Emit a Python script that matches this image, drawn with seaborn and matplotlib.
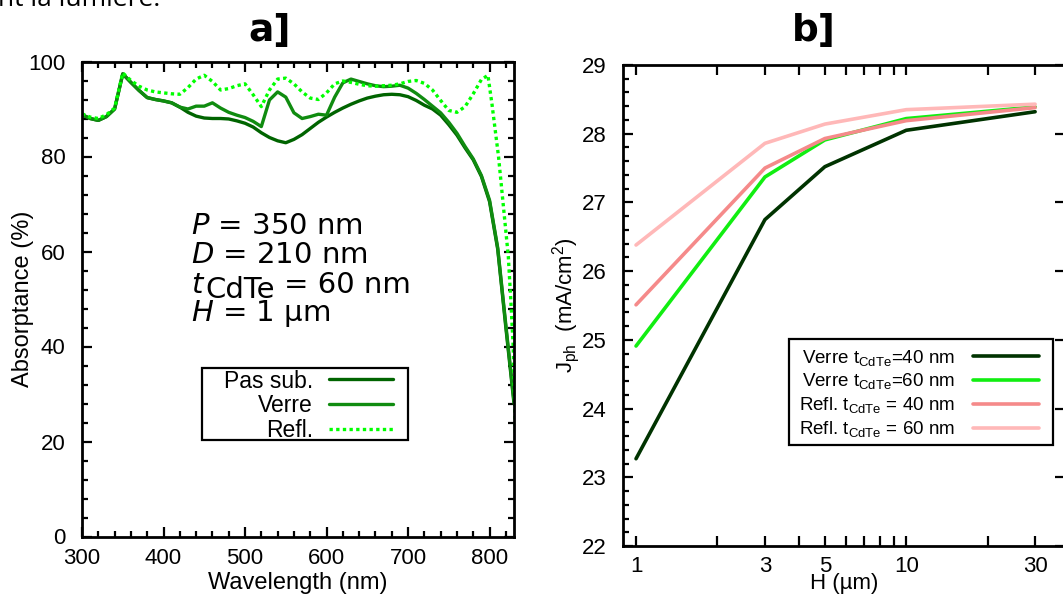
import numpy as np
import pandas as pd
import matplotlib
matplotlib.use("Agg")
import matplotlib.pyplot as plt
import seaborn as sns
from matplotlib.patches import Rectangle
from matplotlib.ticker import MultipleLocator, FixedLocator, FixedFormatter, NullLocator

# ---------------- data: panel a ----------------
wl_pas = [300, 310, 320, 330, 340, 350, 360, 370, 380, 390, 400, 410, 420, 430, 440, 450,
          460, 470, 480, 490, 500, 510, 520, 530, 540, 550, 560, 570, 580, 590, 600, 610,
          620, 630, 640, 650, 660, 670, 680, 690, 700, 710, 720, 730, 740, 750, 760, 770,
          780, 790, 800, 810, 820, 830]
abs_pas = [88.8, 88.0, 87.6, 88.4, 90.0, 97.4, 95.6, 93.9, 92.4, 92.0, 91.7, 91.3, 90.4, 89.3,
           88.5, 88.1, 88.0, 88.0, 87.9, 87.5, 87.0, 86.2, 85.0, 84.0, 83.3, 82.9, 83.6, 84.6,
           85.9, 87.2, 88.3, 89.3, 90.2, 91.0, 91.7, 92.3, 92.7, 93.0, 93.1, 93.0, 92.6, 91.8,
           90.8, 90.0, 88.7, 86.7, 84.5, 81.8, 79.3, 75.8, 70.5, 60.5, 44.0, 28.0]

wl_verre = wl_pas
abs_verre = [88.8, 88.0, 87.6, 88.4, 90.0, 97.4, 95.6, 93.9, 92.4, 92.0, 91.7, 91.3, 90.4, 90.0,
             90.6, 90.6, 91.3, 90.2, 89.3, 88.7, 88.2, 87.4, 86.3, 91.9, 93.6, 92.5, 89.2, 88.0,
             88.4, 88.9, 88.7, 92.5, 95.5, 96.3, 95.8, 95.3, 94.9, 94.7, 94.8, 95.0, 94.4, 93.3,
             92.0, 90.6, 89.2, 87.2, 84.9, 82.1, 79.5, 76.0, 70.8, 60.8, 44.5, 28.5]

wl_refl = [300, 310, 320, 330, 340, 350, 360, 370, 380, 390, 400, 410, 420, 430, 440, 450,
           460, 470, 480, 490, 500, 510, 520, 530, 540, 550, 560, 570, 580, 590, 600, 610,
           620, 630, 640, 650, 660, 670, 680, 690, 700, 710, 720, 730, 740, 750, 760, 770,
           780, 790, 798, 803, 811, 817, 823, 826, 829, 832]
abs_refl = [89.0, 88.3, 88.0, 88.8, 90.2, 97.6, 96.0, 94.8, 94.0, 93.6, 93.4, 93.2, 93.1, 94.5,
            96.3, 97.1, 95.8, 94.0, 94.3, 94.9, 95.3, 93.0, 90.5, 94.0, 96.3, 96.5, 95.3, 93.6,
            92.3, 92.0, 93.4, 95.3, 95.9, 95.6, 95.2, 94.9, 94.8, 94.9, 95.0, 95.3, 95.8, 96.0,
            95.4, 94.0, 91.8, 89.7, 89.3, 90.5, 93.2, 96.2, 97.1, 91.0, 80.0, 69.5, 59.0, 50.0,
            40.0, 20.0]

labels_a = ["Pas sub.", "Verre", "Refl."]
colors_a = ["#006400", "#108c10", "#00ff00"]

# ---------------- data: panel b ----------------
H_um = [1, 3, 5, 10, 30]
j_verre40 = [23.27, 26.75, 27.52, 28.05, 28.32]
j_verre60 = [24.91, 27.37, 27.91, 28.22, 28.39]
j_refl40 = [25.51, 27.50, 27.93, 28.19, 28.38]
j_refl60 = [26.38, 27.86, 28.14, 28.35, 28.43]
labels_b = ["Verre t$_{\\mathrm{CdTe}}$=40 nm", "Verre t$_{\\mathrm{CdTe}}$=60 nm",
            "Refl. t$_{\\mathrm{CdTe}}$ = 40 nm", "Refl. t$_{\\mathrm{CdTe}}$ = 60 nm"]
colors_b = ["#003300", "#11ee11", "#f58a8a", "#ffb8b8"]
xtick_b = [1, 2, 3, 4, 5, 6, 7, 8, 9, 10, 20, 30]
xlabels_b = ["1", "", "3", "", "5", "", "", "", "", "10", "", "30"]

# ---------------- style ----------------
sns.set_theme(style="ticks")
plt.rcParams["font.family"] = ["Liberation Sans", "DejaVu Sans"]
plt.rcParams["mathtext.fontset"] = "custom"
plt.rcParams["mathtext.rm"] = "Liberation Sans"
plt.rcParams["mathtext.it"] = "Liberation Sans:italic"
plt.rcParams["mathtext.bf"] = "Liberation Sans:bold"
for k in ["text.color", "axes.labelcolor", "xtick.color", "ytick.color", "axes.edgecolor"]:
    plt.rcParams[k] = "black"

W, Hh = 1063, 595
fig = plt.figure(figsize=(W / 100, Hh / 100), dpi=100)


def fx(x):
    return x / W


def fy(y):
    return 1 - y / Hh


def box(x0, y0, x1, y1):
    fig.patches.append(Rectangle((fx(x0), fy(y1)), fx(x1) - fx(x0), fy(y0) - fy(y1),
                                 transform=fig.transFigure, facecolor="none",
                                 edgecolor="black", lw=1.6, zorder=5))


ax1 = fig.add_axes([fx(82), fy(536.5), (514 - 82) / W, (536.5 - 61.5) / Hh])
ax2 = fig.add_axes([fx(623), fy(546), (1065 - 623) / W, (546 - 65) / Hh])

# ---------------- panel a ----------------
series_a = [(wl_pas, abs_pas), (wl_verre, abs_verre), (wl_refl, abs_refl)]
for (wl, ab), lab, col in zip(series_a, labels_a, colors_a):
    df = pd.DataFrame({"wl": wl, "A": ab})
    ls = (0, (1, 1)) if lab == "Refl." else "-"
    sns.lineplot(data=df, x="wl", y="A", ax=ax1, color=col, lw=2.4, linestyle=ls,
                 label=lab, legend=False)

ax1.set_xlim(300, 830)
ax1.set_ylim(0, 100)
ax1.xaxis.set_major_locator(MultipleLocator(100))
ax1.xaxis.set_minor_locator(MultipleLocator(20))
ax1.yaxis.set_major_locator(MultipleLocator(20))
ax1.yaxis.set_minor_locator(MultipleLocator(4))
ax1.set_xlabel("Wavelength (nm)", fontsize=17, labelpad=2)
ax1.set_ylabel("Absorptance (%)", fontsize=17, labelpad=-4)

h1 = ax1.get_lines()
leg1 = ax1.legend(h1, labels_a, loc="upper right", bbox_to_anchor=(fx(393), fy(369.5)),
                  bbox_transform=fig.transFigure, borderaxespad=0, markerfirst=False,
                  fontsize=16.5, frameon=False,
                  handlelength=2.8, handletextpad=0.7, labelspacing=0.08, borderpad=0)
box(202, 368, 408, 440)

# annotation
tkw = dict(fontsize=21, family="DejaVu Sans", math_fontfamily="dejavusans", va="baseline",
           ha="left", color="black")
fig.text(fx(191), fy(234), "$P$ = 350 nm", **tkw)
fig.text(fx(191), fy(263.3), "$D$ = 210 nm", **tkw)
fig.text(fx(191), fy(292.7), "$t$", **tkw)
fig.text(fx(205), fy(298.5), "CdTe", **tkw)
fig.text(fx(284), fy(292.7), "= 60 nm", **tkw)
fig.text(fx(191), fy(320.7), "$H$ = 1 µm", **tkw)

# ---------------- panel b ----------------
series_b = [j_verre40, j_verre60, j_refl40, j_refl60]
for j, lab, col in zip(series_b, labels_b, colors_b):
    df = pd.DataFrame({"H": H_um, "J": j})
    sns.lineplot(data=df, x="H", y="J", ax=ax2, color=col, lw=2.6, label=lab, legend=False)

ax2.set_xscale("log")
ax2.set_xlim(0.895, 38.7)
ax2.set_ylim(22, 29)
ax2.xaxis.set_major_locator(FixedLocator(xtick_b))
ax2.xaxis.set_major_formatter(FixedFormatter(xlabels_b))
ax2.xaxis.set_minor_locator(NullLocator())
ax2.yaxis.set_major_locator(MultipleLocator(1))
ax2.yaxis.set_minor_locator(MultipleLocator(0.2))
ax2.set_xlabel("H (µm)", fontsize=16, labelpad=-2.5)
ax2.set_ylabel("J$_{\\mathrm{ph}}$  (mA/cm$^2$)", fontsize=16, labelpad=-0.5)

h2 = ax2.get_lines()
leg2 = ax2.legend(h2, labels_b, loc="upper right", bbox_to_anchor=(fx(1039), fy(347.5)),
                  bbox_transform=fig.transFigure, borderaxespad=0, markerfirst=False,
                  fontsize=13.5, frameon=False,
                  handlelength=3.5, handletextpad=1.0, labelspacing=0.21, borderpad=0)
box(789, 339, 1053, 445)

for ax in (ax1, ax2):
    for sp in ax.spines.values():
        sp.set_linewidth(2)
        sp.set_color("black")
        sp.set_visible(True)
    ax.tick_params(which="both", direction="in", top=True, right=True, color="black",
                   labelcolor="black", width=1.6, labelsize=16)
    ax.tick_params(which="major", length=7)
    ax.tick_params(which="minor", length=4)
    ax.tick_params(axis="y", which="both", pad=12)
    ax.grid(False)
    ax.set_facecolor("white")
ax1.tick_params(axis="x", which="both", pad=8.5)
ax2.tick_params(axis="x", which="both", pad=7)
ax2.tick_params(which="minor", right=False)

# titles
fig.text(fx(270), fy(31), "a]", ha="center", va="center", fontsize=27, weight="bold",
         family="DejaVu Sans", color="black")
fig.text(fx(814), fy(31), "b]", ha="center", va="center", fontsize=27, weight="bold",
         family="DejaVu Sans", color="black")

# fragment of surrounding text
fig.text(fx(-2), fy(6), "nt la lumière.", ha="left", va="baseline", fontsize=19,
         family="Open Sans", color="black")

fig.savefig("out.png", dpi=100, facecolor="white")
